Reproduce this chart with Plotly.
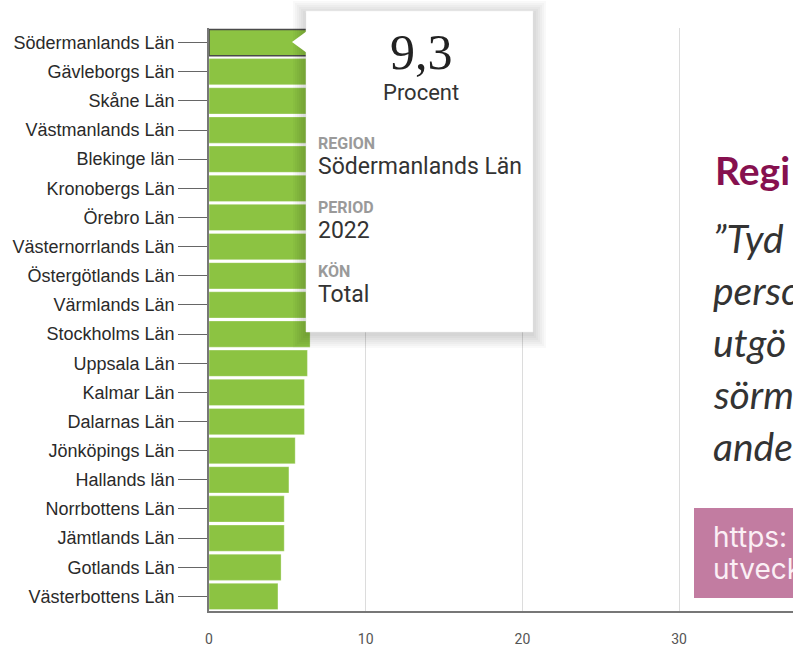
import plotly.graph_objects as go

# data (Procent, 2022, Total)
regions = ["Södermanlands Län", "Gävleborgs Län", "Skåne Län", "Västmanlands Län",
           "Blekinge län", "Kronobergs Län", "Örebro Län", "Västernorrlands Län",
           "Östergötlands Län", "Värmlands Län", "Stockholms Län", "Uppsala Län",
           "Kalmar Län", "Dalarnas Län", "Jönköpings Län", "Hallands län",
           "Norrbottens Län", "Jämtlands Län", "Gotlands Län", "Västerbottens Län"]
values = [9.3, 8.8, 8.1, 7.8, 7.5, 7.3, 7.1, 6.9, 6.8, 6.6,
          6.45, 6.28, 6.09, 6.09, 5.5, 5.1, 4.8, 4.8, 4.6, 4.4]
x_ticks = [0, 10, 20, 30]

selected = 0
tip_value = "9,3"
tip_unit = "Procent"
tip_fields = [("REGION", regions[selected]), ("PERIOD", "2022"), ("KÖN", "Total")]

side_title = "Regi"
side_lines = ["”Tyd", "perso", "utgö", "sörm", "ande"]
link_lines = ["https:", "utveck"]

W, H = 793, 646
L, R, T, B = 209, 0, 28, 35
PW, PH = W - L - R, H - T - B


def px(x):
    return (x - L) / PW


def py(y):
    return (H - B - y) / PH


GREEN = "#8cc342"
line_cols = ["#4a4a4a" if i == selected else "rgba(255,255,255,0.6)" for i in range(len(regions))]
line_w = [1.5 if i == selected else 0.5 for i in range(len(regions))]

fig = go.Figure(go.Bar(
    y=regions, x=values, orientation="h",
    marker=dict(color=GREEN, line=dict(color=line_cols, width=line_w)),
    hoverinfo="skip",
))

fig.update_layout(
    width=W, height=H,
    margin=dict(l=L, r=R, t=T, b=B),
    paper_bgcolor="white", plot_bgcolor="white",
    bargap=0.1, showlegend=False,
    font=dict(family="Liberation Sans, Arial", color="#222"),
)
fig.update_xaxes(
    range=[0, (W - L) / 15.67], tickvals=x_ticks, ticktext=[str(v) for v in x_ticks],
    showgrid=True, gridcolor="#dcdcdc", gridwidth=1, zeroline=False,
    showline=True, linecolor="#777", linewidth=1.5, automargin=False,
    ticks="outside", ticklen=14, tickcolor="rgba(0,0,0,0)",
    tickfont=dict(family="Roboto", size=14, color="#555"),
)
fig.update_yaxes(
    autorange="reversed", showline=True, linecolor="#777", linewidth=1.5, automargin=False,
    ticks="outside", ticklen=29, tickcolor="#666", tickwidth=1,
    tickfont=dict(family="Liberation Sans, Arial", size=18, color="#2a2a2a"),
    showgrid=False,
)

shapes = []
# tooltip shadow, soft and mostly below
for i in range(7):
    d = 1 + i * 2
    shapes.append(dict(type="rect", xref="paper", yref="paper",
                       x0=px(306 - d), x1=px(533 + d), y0=py(11 - d + 3), y1=py(332 + d + 3),
                       fillcolor="rgba(0,0,0,0.022)", line=dict(width=0), layer="above"))
# tooltip box
shapes.append(dict(type="rect", xref="paper", yref="paper",
                   x0=px(306), x1=px(533), y0=py(11), y1=py(332),
                   fillcolor="white", line=dict(color="#ececec", width=0.5), layer="above"))
# pointer
shapes.append(dict(type="path", xref="paper", yref="paper",
                   path=f"M {px(292)},{py(42)} L {px(307)},{py(31)} L {px(307)},{py(53)} Z",
                   fillcolor="white", line=dict(width=0), layer="above"))
# link box on the right
shapes.append(dict(type="rect", xref="paper", yref="paper",
                   x0=px(694), x1=px(W + 5), y0=py(508), y1=py(598),
                   fillcolor="#c27ca1", line=dict(width=0), layer="above"))
fig.update_layout(shapes=shapes)

ann = []


def text(x, y, s, size, color, family="Roboto", xanchor="left", bold=False, italic=False):
    if bold:
        s = f"<b>{s}</b>"
    if italic:
        s = f"<i>{s}</i>"
    ann.append(dict(x=px(x), y=py(y), xref="paper", yref="paper", text=s, showarrow=False,
                    xanchor=xanchor, yanchor="middle",
                    font=dict(family=family, size=size, color=color)))


text(421, 52, tip_value, 50, "#222", family="Liberation Serif", xanchor="center")
text(421, 93, tip_unit, 22, "#333", xanchor="center")
for i, (k, v) in enumerate(tip_fields):
    y0 = 143 + i * 64
    text(316, y0, k, 16, "#9a9a9a", bold=True)
    text(316, y0 + 23, v, 23, "#333")

text(713, 170, side_title, 39, "#86104f", family="Lato", bold=True)
for i, s in enumerate(side_lines):
    text(711, 238 + i * 52, s, 39, "#333", family="Lato", italic=True)
for i, s in enumerate(link_lines):
    text(711, 537 + i * 32, s, 28, "#fbeff5", family="Inter")

fig.update_layout(annotations=ann)

fig.write_html("out.html", config={"displayModeBar": False},
               post_script="document.body.style.margin='0';document.body.style.overflow='hidden';")
